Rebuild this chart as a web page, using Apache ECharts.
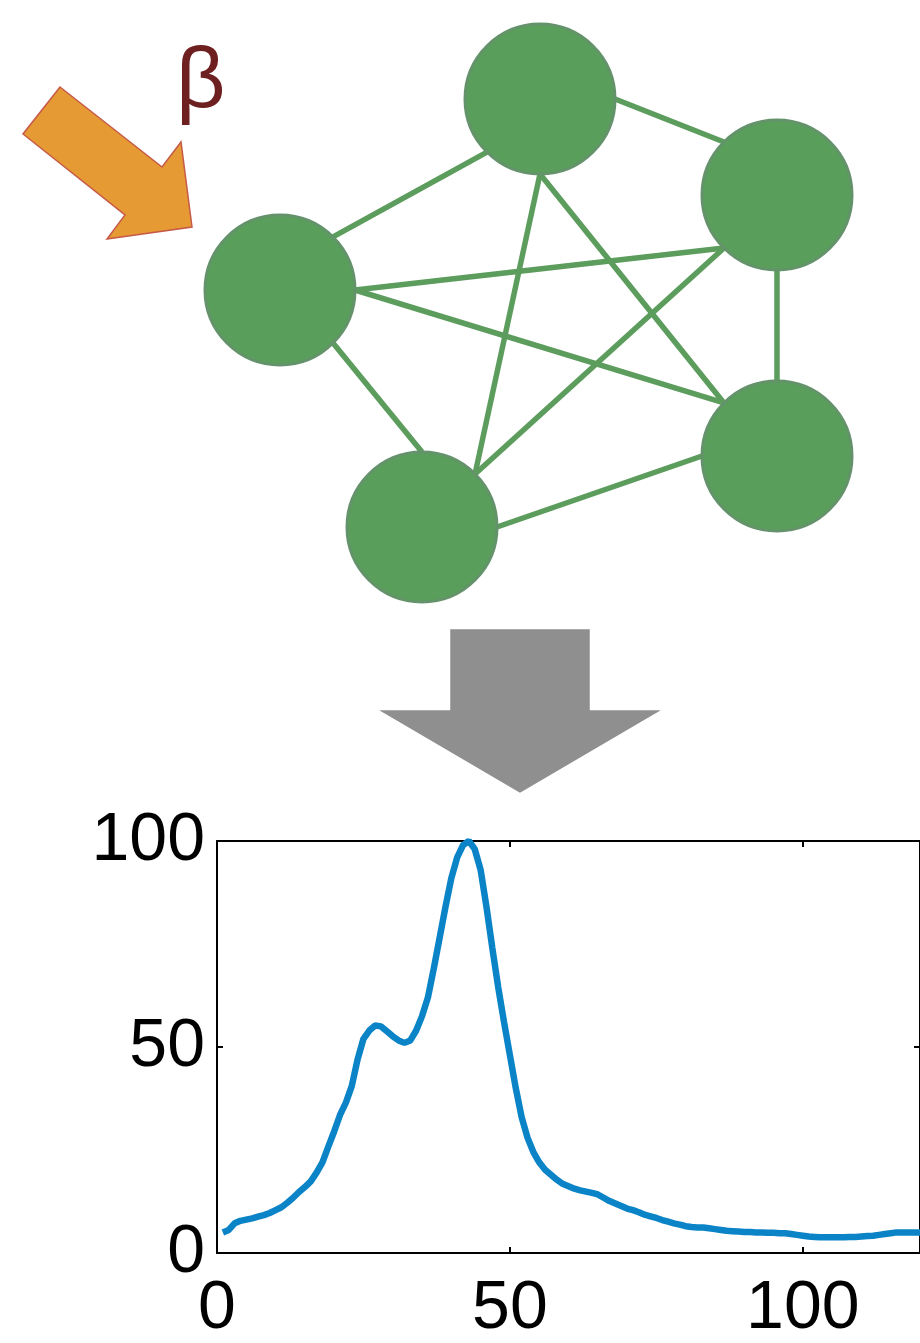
<!DOCTYPE html>
<html>
<head>
<meta charset="utf-8">
<script src="https://cdn.jsdelivr.net/npm/echarts@6/dist/echarts.min.js"></script>
<style>
  html, body { margin: 0; padding: 0; background: #fff; }
</style>
</head>
<body>
<div id="main" style="width: 920px; height: 1343px;"></div>
<script>
// response curve (x = step, y = % of max)
const xs = [1, 2, 3, 4, 5, 6, 7, 8, 9, 10, 11, 12, 13, 14, 15, 16, 17, 18, 19, 20,
  21, 22, 23, 24, 25, 26, 27, 28, 29, 30, 31, 32, 33, 34, 35, 36, 37, 38, 39, 40,
  41, 42, 43, 44, 45, 46, 47, 48, 49, 50, 51, 52, 53, 54, 55, 56, 57, 58, 59, 60,
  61, 62, 63, 64, 65, 66, 67, 68, 69, 70, 71, 72, 73, 74, 75, 76, 77, 78, 79, 80,
  81, 82, 83, 84, 85, 86, 87, 88, 89, 90, 91, 92, 93, 94, 95, 96, 97, 98, 99, 100,
  101, 102, 103, 104, 105, 106, 107, 108, 109, 110, 111, 112, 113, 114, 115, 116, 117, 118, 119, 120];
const ys = [5.0, 5.6, 7.2, 7.8, 8.1, 8.4, 8.8, 9.2, 9.7, 10.4, 11.1, 12.2, 13.4, 14.8, 16.0, 17.4, 19.5, 22.0, 25.8, 29.5,
  33.5, 36.5, 40.5, 47.0, 52.0, 54.0, 55.2, 55.0, 53.8, 52.6, 51.6, 51.0, 51.6, 54.0, 57.5, 62.0, 69.0, 76.5, 84.0, 91.0,
  96.0, 99.0, 100.0, 98.0, 93.0, 84.0, 74.0, 64.5, 56.0, 48.0, 40.0, 33.0, 28.0, 24.5, 22.0, 20.2, 19.0, 17.8, 16.8, 16.2,
  15.6, 15.2, 14.9, 14.6, 14.2, 13.4, 12.6, 12.0, 11.4, 10.8, 10.4, 9.9, 9.3, 8.9, 8.5, 8.0, 7.6, 7.2, 6.9, 6.5,
  6.3, 6.2, 6.2, 6.0, 5.8, 5.6, 5.4, 5.3, 5.2, 5.1, 5.1, 5.0, 5.0, 4.9, 4.9, 4.8, 4.8, 4.6, 4.4, 4.2,
  4.0, 3.9, 3.8, 3.8, 3.8, 3.8, 3.8, 3.9, 3.9, 4.0, 4.1, 4.2, 4.4, 4.6, 4.8, 5.0, 5.0, 5.0, 5.0, 5.0];
const xTicks = [0, 50, 100];
const yTicks = [0, 50, 100];

// network: node centres in diagram units
const nodeXY = [[540, 99], [777, 195], [280, 290], [777, 456], [422, 527]];
// edges: [from node, from side (deg), to node, to side (deg)] - connectors attach at the circle's sides
const edges = [
  [2, 315, 0, 135], [0, 0, 1, 225], [2, 0, 1, 135], [2, 0, 3, 225], [2, 45, 4, 270],
  [0, 90, 4, 315], [0, 90, 3, 225], [1, 90, 3, 270], [1, 135, 4, 315], [4, 0, 3, 180]
];
const nodeR = 75;

// arrow outlines in diagram units
const inputArrow = [[60, 87], [162, 167], [181, 142], [192, 227], [107, 239], [125, 215], [23, 134]];
const downArrow = [[451, 630], [589, 630], [589, 711], [658, 711], [520, 792], [382, 711], [451, 711]];

const curve = xs.map((x, i) => [x, ys[i]]);
const arrows = [
  { pts: inputArrow, fill: '#e59a34', stroke: '#c65a48' },
  { pts: downArrow, fill: '#8f8f8f', stroke: '#8f8f8f' }
];
function side(n, deg) {
  const a = deg * Math.PI / 180;
  return [nodeXY[n][0] + nodeR * Math.cos(a), nodeXY[n][1] + nodeR * Math.sin(a)];
}
const edgeLines = edges.map(e => ({ coords: [side(e[0], e[1]), side(e[2], e[3])] }));

const font = 'Liberation Sans';
const tickStyle = { show: true, inside: true, length: 6, lineStyle: { color: '#000', width: 2 } };
const lineStyle = { show: true, onZero: false, lineStyle: { color: '#000', width: 2 } };

let myChart = echarts.init(document.getElementById('main'));
let option = {
  animation: false,
  backgroundColor: '#fff',
  title: {
    text: 'β',
    left: 176,
    top: 40,
    padding: 0,
    textStyle: { color: '#6e1f1f', fontSize: 86, fontWeight: 'normal', fontFamily: font }
  },
  grid: [
    { left: 217, top: 841, width: 705, height: 418 },
    { left: 0, top: 0, width: 920, height: 820 }
  ],
  xAxis: [
    {
      gridIndex: 0, type: 'value', min: 0, max: 120, interval: 50,
      axisLine: lineStyle, axisTick: tickStyle, splitLine: { show: false },
      axisLabel: {
        showMaxLabel: false, margin: 22, color: '#000', fontSize: 68, fontFamily: font,
        formatter: v => xTicks.includes(v) ? String(v) : ''
      }
    },
    {
      gridIndex: 0, type: 'value', position: 'top', min: 0, max: 120, interval: 50,
      axisLine: lineStyle, axisTick: tickStyle, axisLabel: { show: false }, splitLine: { show: false }
    },
    { gridIndex: 1, type: 'value', min: 0, max: 920, show: false }
  ],
  yAxis: [
    {
      gridIndex: 0, type: 'value', min: 0, max: 100, interval: 50,
      axisLine: lineStyle, axisTick: tickStyle, splitLine: { show: false },
      axisLabel: {
        margin: 12, color: '#000', fontSize: 68, fontFamily: font,
        formatter: v => yTicks.includes(v) ? String(v) : ''
      }
    },
    {
      gridIndex: 0, type: 'value', position: 'right', min: 0, max: 100, interval: 50,
      axisLine: lineStyle, axisTick: tickStyle, axisLabel: { show: false }, splitLine: { show: false }
    },
    { gridIndex: 1, type: 'value', min: 0, max: 820, inverse: true, show: false }
  ],
  series: [
    {
      type: 'custom',
      xAxisIndex: 2,
      yAxisIndex: 2,
      clip: false,
      data: [[0, 0], [0, 0]],
      renderItem: function (params, api) {
        const a = arrows[params.dataIndex];
        return {
          type: 'polygon',
          shape: { points: a.pts.map(p => api.coord(p)) },
          style: { fill: a.fill, stroke: a.stroke, lineWidth: 1.5 }
        };
      }
    },
    {
      type: 'lines',
      coordinateSystem: 'cartesian2d',
      xAxisIndex: 2,
      yAxisIndex: 2,
      z: 2,
      lineStyle: { color: '#5c9d5d', width: 5.5, opacity: 1, curveness: 0 },
      data: edgeLines
    },
    {
      type: 'scatter',
      xAxisIndex: 2,
      yAxisIndex: 2,
      z: 3,
      symbol: 'circle',
      symbolSize: 150,
      itemStyle: { color: '#599e5a', borderColor: '#64936b', borderWidth: 3, opacity: 1 },
      data: nodeXY
    },
    {
      type: 'line',
      xAxisIndex: 0,
      yAxisIndex: 0,
      data: curve,
      showSymbol: false,
      clip: false,
      lineStyle: { color: '#0b84c7', width: 6.5 }
    }
  ]
};
myChart.setOption(option);
</script>
</body>
</html>
